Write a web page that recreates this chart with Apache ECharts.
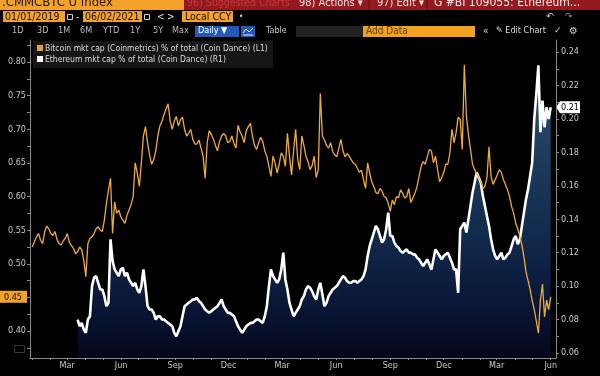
<!DOCTYPE html>
<html><head><meta charset="utf-8">
<script src="https://cdn.jsdelivr.net/npm/echarts@6/dist/echarts.min.js"></script>
<style>html,body{margin:0;padding:0;background:#000;}#c{width:600px;height:376px;}</style>
</head><body><div id="c"></div>
<script>
// ---- data: weekly values from 2019-01-01, plus mid-week values (+3.5 days) ----
const startYear = 2019, startMonth = 0, startDay = 1, weekCount = 127;
const btcValues = [
0.525,0.540,0.535,0.548,0.552,0.542,0.536,0.528,0.538,0.532,
0.523,0.518,0.521,0.481,0.538,0.545,0.555,0.548,0.590,0.627,
0.592,0.580,0.565,0.572,0.588,0.650,0.615,0.690,0.680,0.648,
0.668,0.705,0.722,0.738,0.700,0.719,0.714,0.700,0.694,0.685,
0.678,0.672,0.627,0.698,0.686,0.668,0.690,0.690,0.682,0.679,
0.706,0.690,0.698,0.709,0.676,0.680,0.682,0.660,0.630,0.650,
0.648,0.660,0.694,0.632,0.700,0.640,0.676,0.652,0.646,0.628,
0.753,0.684,0.672,0.667,0.659,0.685,0.659,0.660,0.650,0.642,
0.639,0.612,0.635,0.615,0.604,0.608,0.598,0.578,0.588,0.598,
0.605,0.600,0.591,0.605,0.630,0.652,0.659,0.668,0.660,0.622,
0.636,0.648,0.700,0.695,0.715,0.796,0.692,0.648,0.634,0.622,
0.615,0.674,0.618,0.632,0.636,0.618,0.600,0.575,0.552,0.528,
0.488,0.462,0.432,0.397,0.470,0.446,0.451];
const btcMidValues = [
0.533,0.545,0.530,0.556,0.545,0.548,0.530,0.534,0.545,0.527,
0.515,0.525,0.505,0.530,0.540,0.552,0.550,0.565,0.610,0.545,
0.575,0.570,0.560,0.580,0.600,0.635,0.650,0.704,0.662,0.655,
0.690,0.712,0.730,0.712,0.712,0.705,0.718,0.690,0.700,0.678,
0.684,0.660,0.680,0.692,0.676,0.682,0.694,0.680,0.690,0.672,
0.696,0.680,0.704,0.690,0.670,0.688,0.668,0.645,0.660,0.635,
0.665,0.645,0.660,0.668,0.655,0.690,0.660,0.640,0.660,0.640,
0.690,0.676,0.680,0.662,0.672,0.668,0.664,0.655,0.648,0.636,
0.625,0.650,0.622,0.606,0.612,0.600,0.590,0.595,0.600,0.610,
0.598,0.612,0.598,0.615,0.645,0.648,0.670,0.650,0.640,0.628,
0.648,0.665,0.680,0.718,0.670,0.720,0.670,0.640,0.628,0.612,
0.628,0.630,0.625,0.640,0.625,0.610,0.585,0.560,0.540,0.510,
0.475,0.445,0.415,0.446,0.421,0.432];
const ethValues = [
null,null,null,null,null,null,null,null,null,null,null,
0.080,0.078,0.072,0.082,0.105,0.102,0.098,0.088,0.128,0.110,
0.106,0.111,0.108,0.102,0.102,0.096,0.110,0.088,0.086,0.080,
0.082,0.080,0.078,0.076,0.070,0.076,0.088,0.090,0.092,0.093,
0.090,0.086,0.084,0.086,0.088,0.092,0.086,0.084,0.082,0.076,
0.072,0.076,0.078,0.079,0.080,0.078,0.088,0.110,0.104,0.104,
0.120,0.098,0.086,0.084,0.088,0.094,0.100,0.097,0.092,0.102,
0.088,0.094,0.098,0.100,0.104,0.105,0.102,0.103,0.102,0.104,
0.110,0.124,0.132,0.134,0.126,0.134,0.130,0.126,0.123,0.120,
0.122,0.120,0.119,0.116,0.112,0.116,0.110,0.122,0.118,0.118,
0.120,0.114,0.110,0.134,0.138,0.140,0.156,0.168,0.162,0.148,
0.136,0.122,0.116,0.120,0.117,0.120,0.128,0.125,0.136,0.152,
0.166,0.200,0.232,0.211,0.207,0.207];
const ethMidValues = [
null,null,null,null,null,null,null,null,null,null,null,
0.076,0.074,0.080,0.100,0.106,0.098,0.094,0.090,0.115,0.108,
0.110,0.106,0.104,0.100,0.098,0.100,0.100,0.086,0.084,0.082,
0.080,0.079,0.077,0.072,0.073,0.082,0.089,0.091,0.092,0.091,
0.088,0.085,0.085,0.087,0.090,0.088,0.084,0.083,0.079,0.074,
0.074,0.077,0.078,0.080,0.079,0.082,0.100,0.106,0.102,0.110,
0.104,0.090,0.082,0.086,0.092,0.098,0.099,0.094,0.098,0.095,
0.090,0.096,0.099,0.102,0.106,0.103,0.102,0.103,0.103,0.106,
0.118,0.128,0.136,0.130,0.128,0.144,0.130,0.124,0.121,0.121,
0.120,0.119,0.117,0.114,0.114,0.113,0.116,0.120,0.116,0.119,
0.117,0.110,0.096,0.136,0.132,0.148,0.162,0.165,0.154,0.142,
0.128,0.118,0.118,0.116,0.119,0.124,0.130,0.128,0.144,0.158,
0.174,0.215,0.192,0.195,0.200];
const leftLabels = [0.40,0.45,0.50,0.55,0.60,0.65,0.70,0.75,0.80];
const leftTicks = [0.375,0.40,0.425,0.45,0.475,0.50,0.525,0.55,0.575,0.60,0.625,0.65,0.675,0.70,0.725,0.75,0.775,0.80,0.825];
const rightLabels = [0.06,0.08,0.10,0.12,0.14,0.16,0.18,0.20,0.22,0.24];
const rightTicks = [0.06,0.07,0.08,0.09,0.10,0.11,0.12,0.13,0.14,0.15,0.16,0.17,0.18,0.19,0.20,0.21,0.22,0.23,0.24];
const xLabelDates = [[2019,2],[2019,5],[2019,8],[2019,11],[2020,2],[2020,5],[2020,8],[2020,11],[2021,2],[2021,5]];
const monthNames = ['Jan','Feb','Mar','Apr','May','Jun','Jul','Aug','Sep','Oct','Nov','Dec'];
const seriesNames = ['Bitcoin mkt cap (Coinmetrics) % of total (Coin Dance) (L1)','Ethereum mkt cap % of total (Coin Dance) (R1)'];

const DAY = 86400000;
const dates = [];
for (let i = 0; i < weekCount; i++) dates.push(new Date(startYear, startMonth, startDay + 7 * i).getTime());
function buildSeries(weekly, mid) {
  const out = [];
  for (let i = 0; i < weekly.length; i++) {
    out.push([dates[i], weekly[i]]);
    if (i < mid.length) out.push([dates[i] + 3.5 * DAY, mid[i]]);
  }
  return out;
}
const monthTicks = [];
for (let y = 2019; y <= 2021; y++) for (let m = 0; m < 12; m++) { if (y === 2021 && m > 5) break; monthTicks.push(new Date(y, m, 1).getTime()); }
const xLabelValues = xLabelDates.map(a => new Date(a[0], a[1], 1).getTime());
const btcData = buildSeries(btcValues, btcMidValues);
const ethData = buildSeries(ethValues, ethMidValues);
const lastBtc = btcValues[btcValues.length - 1];
const lastEth = ethValues[ethValues.length - 1];
const leftShown = leftLabels.filter(v => Math.abs(v - lastBtc) > 0.02);

const NARROW = "'Liberation Sans Narrow','Arial Narrow','DejaVu Sans Condensed',sans-serif";
const chart = echarts.init(document.getElementById('c'), null, {renderer: 'canvas'});
const axisGrey = '#8a8a8a';
const labelGrey = '#c8c8c8';

chart.setOption({
  backgroundColor: '#000',
  animation: false,
  grid: {left: 30, right: 44, top: 40, bottom: 18},
  xAxis: {
    type: 'value',
    min: new Date(2018, 11, 28).getTime(),
    max: new Date(2021, 5, 10).getTime(),
    axisLine: {show: true, onZero: false, lineStyle: {color: axisGrey, width: 1}},
    axisTick: {show: true, length: 2, lineStyle: {color: axisGrey}, customValues: monthTicks},
    axisLabel: {color: labelGrey, fontSize: 9, fontFamily: NARROW, margin: 3, customValues: xLabelValues,
      formatter: v => monthNames[new Date(v).getMonth()]},
    splitLine: {show: false}
  },
  yAxis: [{
    type: 'value', position: 'left', min: 0.36, max: 0.8327,
    axisLine: {show: true, onZero: false, lineStyle: {color: axisGrey}},
    axisTick: {show: true, length: 3, lineStyle: {color: axisGrey}, customValues: leftTicks},
    axisLabel: {color: labelGrey, fontSize: 9, fontFamily: NARROW, margin: 4, customValues: leftShown,
      formatter: v => v.toFixed(2)},
    splitLine: {show: false}
  }, {
    type: 'value', position: 'right', min: 0.057, max: 0.2472,
    axisLine: {show: true, onZero: false, lineStyle: {color: axisGrey}},
    axisTick: {show: true, length: 3, lineStyle: {color: axisGrey}, customValues: rightTicks},
    axisLabel: {color: labelGrey, fontSize: 9, fontFamily: NARROW, margin: 5, customValues: rightLabels,
      formatter: v => v.toFixed(2)},
    splitLine: {show: false}
  }],
  series: [{
    name: seriesNames[1], type: 'line', yAxisIndex: 1, data: ethData, showSymbol: false, z: 2,
    lineStyle: {color: '#ffffff', width: 2.6},
    areaStyle: {color: {type: 'linear', x: 0, y: 40, x2: 0, y2: 358, global: true, colorStops: [
      {offset: 0, color: '#4a7eae'}, {offset: 0.35, color: '#2a5886'}, {offset: 0.65, color: '#17386a'},
      {offset: 0.85, color: '#0d1d4a'}, {offset: 1, color: '#060a28'}]}}
  }, {
    name: seriesNames[0], type: 'line', yAxisIndex: 0, data: btcData, showSymbol: false, z: 3,
    lineStyle: {color: '#eeab38', width: 1.3}
  }]
});

function txt(x, y, text, fill, size, family, extra) {
  return {type: 'text', silent: true, style: Object.assign({x: x, y: y, text: text, fill: fill,
    font: size + 'px ' + (family || NARROW), verticalAlign: 'middle', align: 'left'}, extra || {})};
}
function rect(x, y, w, h, fill, stroke) {
  return {type: 'rect', silent: true, shape: {x: x, y: y, width: w, height: h},
    style: {fill: fill || 'none', stroke: stroke || 'none', lineWidth: 1}};
}
const yL = chart.convertToPixel({yAxisIndex: 0}, lastBtc);
const yR = chart.convertToPixel({yAxisIndex: 1}, lastEth);
const OR = '#f2a12a';
const g = [
  rect(0, 0, 184, 10, OR),
  txt(2, 3, '.CMMCBTC U Index', '#2a1800', 13),
  rect(184, 0, 416, 10, '#931a1e'),
  txt(187, 3, '96) Suggested Charts', '#c7363a', 10.5),
  rect(296, 0, 304, 10, '#931a1e'),
  txt(299, 3, '98) Actions \u25BE', '#f1dede', 11),
  {type: 'line', silent: true, shape: {x1: 369, y1: 0, x2: 369, y2: 10}, style: {stroke: '#5a0c0c'}},
  txt(377, 3, '97) Edit \u25BE', '#f1dede', 11),
  {type: 'line', silent: true, shape: {x1: 427, y1: 0, x2: 427, y2: 10}, style: {stroke: '#5a0c0c'}},
  txt(434, 3, 'G #BI 109055: Ethereum...', '#f5e8e8', 12),
  rect(3, 11, 62, 11, OR), txt(5, 17, '01/01/2019', '#1a1000', 10.5),
  rect(67.5, 14.5, 5, 5, null, '#cfcfcf'),
  txt(76, 17, '-', '#dddddd', 10),
  rect(83, 11, 59, 11, OR), txt(85, 17, '06/02/2021', '#1a1000', 10.5),
  rect(144.5, 14.5, 5, 5, null, '#cfcfcf'),
  txt(157, 17, '<', '#e0e0e0', 10), txt(167, 17, '>', '#e0e0e0', 10),
  rect(182, 11, 51, 11, OR), txt(185, 17, 'Local CCY', '#1a1000', 10.5),
  txt(239, 17, '\u2022', '#dddddd', 8),
  txt(546, 17, '\u21B6', '#dddddd', 9, 'DejaVu Sans'), txt(565, 17, '\u21B7', '#999999', 9, 'DejaVu Sans'),
  txt(12, 31, '1D', '#bdbdbd', 9), txt(37, 31, '3D', '#bdbdbd', 9), txt(58, 31, '1M', '#bdbdbd', 9),
  txt(80, 31, '6M', '#bdbdbd', 9), txt(103, 31, 'YTD', '#bdbdbd', 9), txt(130, 31, '1Y', '#bdbdbd', 9),
  txt(153, 31, '5Y', '#bdbdbd', 9), txt(172, 31, 'Max', '#bdbdbd', 9),
  rect(195, 26, 44, 11, '#2459b8'), txt(198, 31, 'Daily \u25BC', '#ffffff', 9),
  rect(241, 26, 14, 11, '#2459b8'),
  {type: 'polyline', silent: true, shape: {points: [[243, 33], [246, 29], [249, 32], [253, 28]]}, style: {stroke: '#e8e8ff', fill: 'none', lineWidth: 1}},
  {type: 'line', silent: true, shape: {x1: 243, y1: 35, x2: 253, y2: 35}, style: {stroke: '#e8e8ff', lineWidth: 1}},
  txt(266, 31, 'Table', '#c8c8c8', 9),
  rect(296, 26, 67, 11, '#222222'),
  rect(363, 26, 112, 11, '#f2a21f'), txt(366, 31, 'Add Data', '#5a3c08', 10),
  txt(483, 31, '\u00AB', '#dddddd', 10), txt(496, 31, '\u270E Edit Chart', '#dddddd', 9, "'DejaVu Sans Condensed','Liberation Sans Narrow',sans-serif"),
  txt(554, 31, '\u2713', '#cfcfcf', 9, 'DejaVu Sans'), txt(569, 31, '\u2699', '#cfcfcf', 10, 'DejaVu Sans'),
  rect(33, 41, 240, 27, '#161616'),
  rect(37, 45, 6, 6, '#e3a23a'), txt(45, 48.5, seriesNames[0], '#dcdcdc', 8.5),
  rect(37, 56, 6, 6, '#ffffff'), txt(45, 59.5, seriesNames[1], '#dcdcdc', 8.5),
  rect(0, yL - 6, 27, 12, OR), txt(4, yL + 0.5, lastBtc.toFixed(2), '#1a1000', 9),
  {type: 'polygon', silent: true, shape: {points: [[556, yR], [560, yR - 6], [580, yR - 6], [580, yR + 6], [560, yR + 6]]}, style: {fill: '#ffffff'}},
  txt(561, yR + 0.5, lastEth.toFixed(2), '#000000', 9),
  rect(14.5, 345.5, 10, 7, null, '#3a3a3a')
];
chart.setOption({graphic: g});
</script></body></html>
